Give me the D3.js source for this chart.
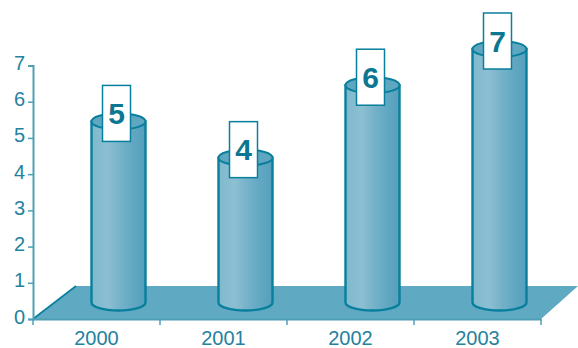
<!DOCTYPE html>
<html>
<head>
<meta charset="utf-8">
<script src="https://d3js.org/d3.v7.min.js"></script>
<style>
html,body{margin:0;padding:0;background:#fff}
svg{display:block}
text{font-family:"Liberation Sans",Arial,sans-serif}
</style>
</head>
<body>
<svg id="chart" width="578" height="348"></svg>
<script>
// Chart data
const years = ["2000", "2001", "2002", "2003"];
const counts = [5, 4, 6, 7];
const yTicks = [0, 1, 2, 3, 4, 5, 6, 7];

const svg = d3.select("#chart");
const ink = "#087f9c", axisInk = "#4f9fb6", labelInk = "#24829e";

const x = d3.scaleBand().domain(years).range([33, 541]);
const y = d3.scaleLinear().domain([0, 7]).range([319, 65.5]);

// The floor and the cylinders sit behind the axis plane, shifted by this depth
const depthX = 43, depthY = 33;
const rx = 27, ry = 8;

// Banded left-to-right shading of the cylinder bodies
const defs = svg.append("defs");
const grad = defs.append("linearGradient").attr("id", "body");
[[0, "#7fb9cd"], [0.3, "#8dbfd2"], [0.55, "#74b1c9"], [0.8, "#5fa6c1"], [1, "#55a0bb"]]
  .forEach(([o, c]) => grad.append("stop").attr("offset", o).attr("stop-color", c));

// Floor
const floorFront = y(0), floorBack = y(0) - depthY;
svg.append("path")
  .attr("d", d3.line()([
    [x.range()[0], floorFront],
    [x.range()[0] + depthX, floorBack],
    [578, floorBack],
    [x.range()[1], floorFront]
  ]) + "Z")
  .attr("fill", "#5fa9c3");
svg.append("path")
  .attr("d", d3.line()([[x.range()[0], floorFront], [x.range()[0] + depthX, floorBack]]))
  .attr("stroke", ink).attr("stroke-width", 1.6).attr("fill", "none");

// Axes
const yAxis = svg.append("g")
  .attr("transform", `translate(${x.range()[0]},0)`)
  .call(d3.axisLeft(y).tickValues(yTicks).tickSize(5).tickPadding(3).tickFormat(d3.format("d")));
const xAxis = svg.append("g")
  .attr("transform", `translate(0,${y(0)})`)
  .call(d3.axisBottom(x).tickSize(0).tickPadding(12));

[yAxis, xAxis].forEach(g => {
  g.selectAll("path.domain").attr("stroke", axisInk).attr("stroke-width", 2);
  g.selectAll("line").attr("stroke", axisInk).attr("stroke-width", 1.5);
  g.selectAll("text").attr("fill", labelInk).attr("font-size", 20);
});
yAxis.selectAll("text").attr("dy", "0.2em");

// Category separators below the floor edge
xAxis.selectAll("line.sep")
  .data([...years.map(d => x(d)), x.range()[1]])
  .join("line")
  .attr("class", "sep")
  .attr("x1", d => d).attr("x2", d => d)
  .attr("y1", 0).attr("y2", 6)
  .attr("stroke", axisInk).attr("stroke-width", 1.5);

// Cylinders and value boxes
const bars = svg.append("g").selectAll("g")
  .data(years.map((year, i) => ({ year, value: counts[i] })))
  .join("g")
  .attr("transform", d => `translate(${x(d.year) + x.bandwidth() / 2 + 22},0)`);

const baseY = y(0) - depthY / 2;
bars.append("path")
  .attr("d", d => {
    const top = y(d.value) - depthY / 2;
    return `M${-rx},${top}L${-rx},${baseY}A${rx},${ry} 0 0 0 ${rx},${baseY}L${rx},${top}Z`;
  })
  .attr("fill", "url(#body)").attr("stroke", ink).attr("stroke-width", 2.4);
bars.append("ellipse")
  .attr("cy", d => y(d.value) - depthY / 2)
  .attr("rx", rx).attr("ry", ry)
  .attr("fill", "#5fa6c1").attr("stroke", ink).attr("stroke-width", 2);

const boxW = 28, boxH = 56;
bars.append("rect")
  .attr("x", -16)
  .attr("y", d => y(d.value) - depthY / 2 - 36)
  .attr("width", boxW).attr("height", boxH)
  .attr("fill", "#fff").attr("stroke", ink).attr("stroke-width", 1.5);
bars.append("text")
  .attr("x", -2)
  .attr("y", d => y(d.value) - depthY / 2 - 8)
  .attr("dy", "0.36em")
  .attr("text-anchor", "middle")
  .attr("font-size", 30).attr("font-weight", 700)
  .attr("fill", "#0b7792")
  .text(d => d.value);
</script>
</body>
</html>
